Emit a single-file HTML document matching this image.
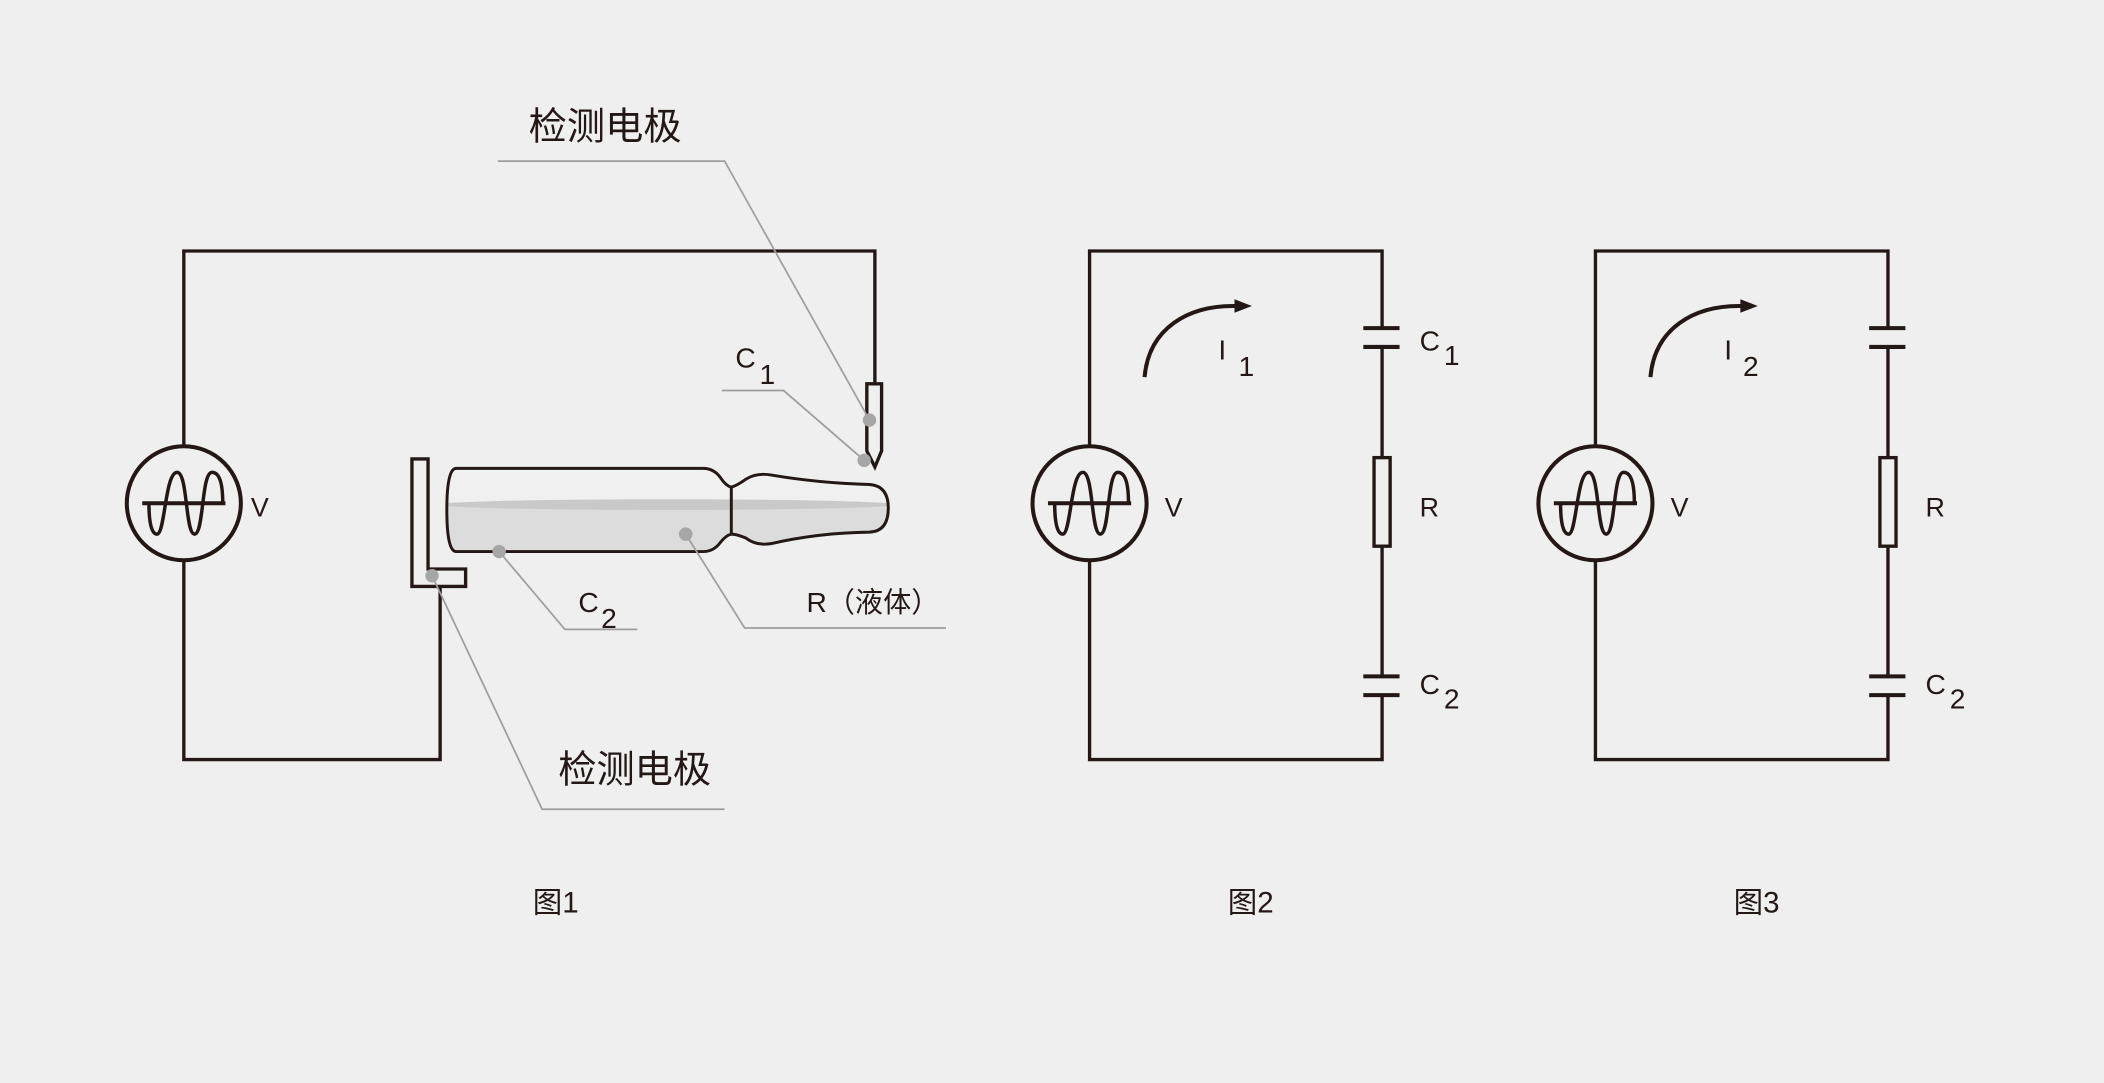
<!DOCTYPE html>
<html><head><meta charset="utf-8"><style>
html,body{margin:0;padding:0;background:#efefef;}
svg{display:block;}
text{font-family:"Liberation Sans","Noto Sans CJK SC",sans-serif;fill:#231815;}
</style></head><body>
<svg width="2104" height="1083" viewBox="0 0 1568 807" xmlns="http://www.w3.org/2000/svg">
<defs>
<g id="src">
<circle cx="0" cy="0" r="42.5" fill="none" stroke="#231815" stroke-width="3"/>
<line x1="-31" y1="0" x2="31" y2="0" stroke="#231815" stroke-width="3"/>
<path d="M-26,0 C-26,15 -24,23 -20,23 C-14,23 -14,-23 -5,-23 C3,-23 1,23 8,23 C15,23 13,-23 21,-23 C28,-23 29,-10 29,0" fill="none" stroke="#231815" stroke-width="2.6"/>
</g>
<clipPath id="vial"><path d="M340,349 L524,349 Q532,349 537,356 Q541,362 545,363 Q549,362 556,357 Q564,352 575,354 Q610,360 648,361 Q662,362 662,378.5 Q662,396 648,396.5 Q610,397 575,405 Q564,407 556,401 Q549,398 545,398 Q541,399 537,404 Q532,411 524,411 L340,411 Q333,411 333,380 Q333,349 340,349 Z"/></clipPath>
</defs>
<rect width="1568" height="807" fill="#efefef"/>
<g fill="none" stroke="#231815" stroke-width="2.5">
<polyline points="137,332 137,187 652,187 652,286"/>
<polyline points="137,418 137,566 328,566 328,437"/>
<path d="M646,286 L657,286 L657,336 L652,348 L646,336 Z"/>
<path d="M307,342 L319,342 L319,424 L347,424 L347,437 L307,437 Z"/>
</g>
<use href="#src" x="137" y="375"/>
<g clip-path="url(#vial)">
<rect x="320" y="340" width="360" height="80" fill="#f0f0f0"/>
<rect x="320" y="376" width="360" height="50" fill="#dcdcdc"/>
<ellipse cx="497" cy="376" rx="170" ry="4" fill="#c9c9c9"/>
</g>
<path d="M340,349 L524,349 Q532,349 537,356 Q541,362 545,363 Q549,362 556,357 Q564,352 575,354 Q610,360 648,361 Q662,362 662,378.5 Q662,396 648,396.5 Q610,397 575,405 Q564,407 556,401 Q549,398 545,398 Q541,399 537,404 Q532,411 524,411 L340,411 Q333,411 333,380 Q333,349 340,349 Z" fill="none" stroke="#231815" stroke-width="2.2"/>
<line x1="545" y1="363" x2="545" y2="398" stroke="#231815" stroke-width="2.2"/>
<g fill="none" stroke="#9e9e9e" stroke-width="1.3">
<polyline points="371,120 540,120 648,313"/>
<polyline points="538,291 584,291 644,343"/>
<polyline points="372,411 421,469 475,469"/>
<polyline points="511,398 555,468 705,468"/>
<polyline points="322,429 404,603 540,603"/>
</g>
<g fill="#a6a6a6">
<circle cx="648" cy="313" r="5"/><circle cx="644" cy="343" r="5"/>
<circle cx="372" cy="411" r="5"/><circle cx="511" cy="398" r="5"/><circle cx="322" cy="429" r="5"/>
</g>
<text x="394" y="104" font-size="28.5">检测电极</text>
<text x="416" y="583" font-size="28.5">检测电极</text>
<text x="548" y="274" font-size="21">C</text><text x="566" y="286" font-size="21">1</text>
<text x="431" y="456" font-size="21">C</text><text x="448" y="468" font-size="21">2</text>
<text x="601" y="456" font-size="21">R（液体）</text>
<text x="187" y="385" font-size="20">V</text>
<text x="397" y="680" font-size="22">图1</text>
<text x="915" y="680" font-size="22">图2</text>
<text x="1292" y="680" font-size="22">图3</text>

<g id="circ">
<g fill="none" stroke="#231815" stroke-width="2.5">
<polyline points="812,332 812,187 1030,187 1030,244.5"/>
<line x1="1030" y1="258.5" x2="1030" y2="341"/>
<line x1="1030" y1="407" x2="1030" y2="504"/>
<polyline points="1030,518 1030,566 812,566 812,418"/>
<line x1="1016" y1="244.5" x2="1043" y2="244.5" stroke-width="3"/>
<line x1="1016" y1="258.5" x2="1043" y2="258.5" stroke-width="3"/>
<line x1="1016" y1="504" x2="1043" y2="504" stroke-width="3"/>
<line x1="1016" y1="518" x2="1043" y2="518" stroke-width="3"/>
<rect x="1024" y="341" width="12" height="66"/>
<path d="M853,281 C856,245 885,227 922,228" stroke-width="3"/>
</g>
<path d="M920,223 L933,228 L920,233 Z" fill="#231815"/>
<use href="#src" x="812" y="375"/>
<text x="868" y="385" font-size="20">V</text>
<text x="1058" y="385" font-size="20">R</text>
</g>
<text x="1058" y="261" font-size="21">C</text><text x="1076" y="272" font-size="21">1</text>
<text x="1058" y="517" font-size="21">C</text><text x="1076" y="528" font-size="21">2</text>
<text x="908" y="268" font-size="21">I</text><text x="923" y="280" font-size="21">1</text>
<use href="#circ" x="377" y="0"/>
<text x="1435" y="517" font-size="21">C</text><text x="1453" y="528" font-size="21">2</text>
<text x="1285" y="268" font-size="21">I</text><text x="1299" y="280" font-size="21">2</text>
</svg>
</body></html>
